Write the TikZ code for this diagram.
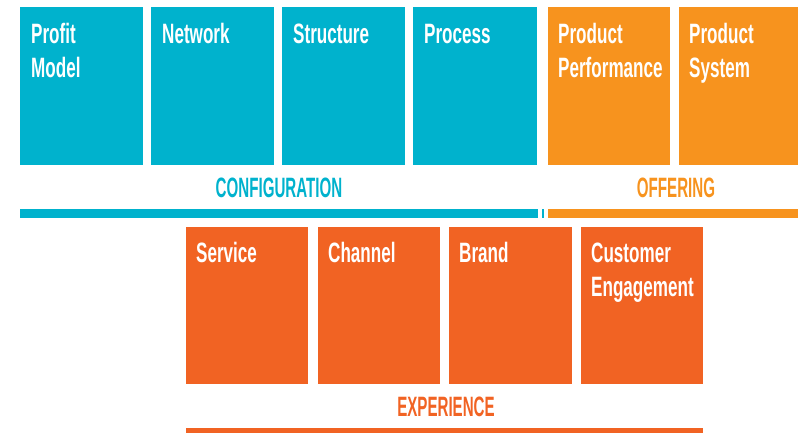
\documentclass[tikz,border=0pt]{standalone}
\usepackage{fontspec}
\setmainfont{Liberation Sans}[FakeStretch=0.61,BoldFont={Liberation Sans Bold}]
\newfontfamily\catfont{Liberation Sans Bold}[FakeStretch=0.54]
\definecolor{cyanc}{RGB}{0,178,205}
\definecolor{offc}{RGB}{247,147,30}
\definecolor{expc}{RGB}{241,99,35}
\tikzset{
  box/.style={rectangle, inner sep=0pt, anchor=north west, minimum height=158pt},
  lbl/.style={inner sep=0pt, anchor=base west, text=white, align=left,
    font=\fontsize{28}{34}\selectfont\bfseries},
  cat/.style={inner sep=0pt, anchor=base, font=\fontsize{28}{34}\selectfont\catfont},
}
\begin{document}
\begin{tikzpicture}[x=1pt,y=1pt]
\useasboundingbox (0,0) rectangle (798,433);
% top row
\node[box, fill=cyanc, minimum width=123pt] (pm) at (20,426) {};
\node[box, fill=cyanc, minimum width=123pt] (nw) at (151,426) {};
\node[box, fill=cyanc, minimum width=123pt] (st) at (282,426) {};
\node[box, fill=cyanc, minimum width=124pt] (pr) at (413,426) {};
\node[box, fill=offc, minimum width=122pt] (pp) at (548,426) {};
\node[box, fill=offc, minimum width=119pt] (ps) at (679,426) {};
% bottom row
\node[box, fill=expc, minimum width=122pt, minimum height=157pt] (sv) at (186,206) {};
\node[box, fill=expc, minimum width=122pt, minimum height=157pt] (ch) at (318,206) {};
\node[box, fill=expc, minimum width=123pt, minimum height=157pt] (br) at (449,206) {};
\node[box, fill=expc, minimum width=122pt, minimum height=157pt] (ce) at (581,206) {};
% labels (base anchor = baseline of last line)
\node[lbl] at ([xshift=11pt,yshift=-71pt]pm.north west) {Profit\\Model};
\node[lbl] at ([xshift=11pt,yshift=-37pt]nw.north west) {Network};
\node[lbl] at ([xshift=11pt,yshift=-37pt]st.north west) {Structure};
\node[lbl] at ([xshift=11pt,yshift=-37pt]pr.north west) {Process};
\node[lbl] at ([xshift=10pt,yshift=-71pt]pp.north west) {Product\\Performance};
\node[lbl] at ([xshift=10pt,yshift=-71pt]ps.north west) {Product\\System};
\node[lbl] at ([xshift=10pt,yshift=-36pt]sv.north west) {Service};
\node[lbl] at ([xshift=10pt,yshift=-36pt]ch.north west) {Channel};
\node[lbl] at ([xshift=10pt,yshift=-36pt]br.north west) {Brand};
\node[lbl] at ([xshift=10pt,yshift=-70pt]ce.north west) {Customer\\Engagement};
% bars
\fill[cyanc] (20,215) rectangle (538,224);
\fill[cyanc] (542,215) rectangle (544,224);
\fill[offc] (548,215) rectangle (798,224);
\fill[expc] (186,0) rectangle (703,5);
% category names
\node[cat, text=cyanc] (cfg) at (279,235) {CONFIGURATION};
\node[cat, text=offc] (off) at (676,235) {OFFERING};
\node[cat, text=expc] (exp) at (446,16) {EXPERIENCE};
\end{tikzpicture}
\end{document}
